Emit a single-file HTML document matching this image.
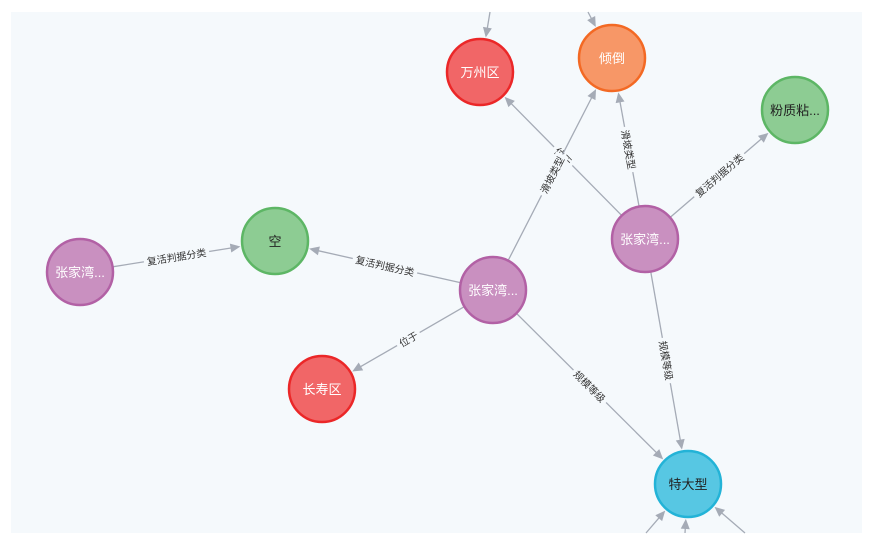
<!DOCTYPE html>
<html><head><meta charset="utf-8"><style>
html,body{margin:0;padding:0;background:#fff;}
svg{display:block;font-family:"Liberation Sans","Noto Sans CJK SC",sans-serif;}
</style></head><body>
<svg id="s" width="880" height="541" viewBox="0 0 880 541" xmlns="http://www.w3.org/2000/svg">
<rect x="11" y="12" width="851" height="521" fill="#f5f9fc"/>
<g id="edges"></g><g id="nodes"></g>
</svg>
<script>
const N={
 wz:[480,72,'万州区','#f16667','#eb2728','#fff'],
 qd:[612,58,'倾倒','#f79767','#f36924','#fff'],
 fz:[795,110,'粉质粘...','#8dcc93','#5db665','#222'],
 k:[275,241,'空','#8dcc93','#5db665','#222'],
 zl:[80,272,'张家湾...','#c990c0','#b261a5','#fff'],
 zc:[493,290,'张家湾...','#c990c0','#b261a5','#fff'],
 zr:[645,239,'张家湾...','#c990c0','#b261a5','#fff'],
 cs:[322,389,'长寿区','#f16667','#eb2728','#fff'],
 td:[688,484,'特大型','#57c7e3','#23b3d7','#222']};
const R=33,NS='http://www.w3.org/2000/svg';
const E=document.getElementById('edges'),G=document.getElementById('nodes');
function el(t,a,p){const e=document.createElementNS(NS,t);for(const k in a)e.setAttribute(k,a[k]);p.appendChild(e);return e;}
function arrow(x,y,ang){const c=Math.cos(ang),s=Math.sin(ang);const L=10,W=4.5;
 el('polygon',{points:`${x},${y} ${x-L*c-W*s},${y-L*s+W*c} ${x-L*c+W*s},${y-L*s-W*c}`,fill:'#a5abb6'},E);}
function edge(x1,y1,x2,y2,label,endR){
 const dx=x2-x1,dy=y2-y1,d=Math.hypot(dx,dy),a=Math.atan2(dy,dx);
 const sx=x1+dx/d*(endR===undefined?R:0)*(label===null&&endR===-1?0:1),sy=y1+dy/d*(endR===undefined?R:0);
 const ex=x2-dx/d*(R+2),ey=y2-dy/d*(R+2);
 el('line',{x1:sx,y1:sy,x2:ex-Math.cos(a)*8,y2:ey-Math.sin(a)*8,stroke:'#a5abb6','stroke-width':1.3},E);
 arrow(ex,ey,a);
 if(label){const mx=(sx+ex)/2,my=(sy+ey)/2;let deg=a*180/Math.PI;if(deg>90)deg-=180;if(deg<-90)deg+=180;
  const w=label.length*10+6;
  const g=el('g',{transform:`translate(${mx},${my}) rotate(${deg})`},E);
  el('rect',{x:-w/2,y:-7,width:w,height:14,fill:'#f5f9fc'},g);
  const t=el('text',{x:0,y:4,'text-anchor':'middle','font-size':10,fill:'#333'},g);t.textContent=label;}
}
function e(a,b,l){edge(N[a][0],N[a][1],N[b][0],N[b][1],l);}
e('zr','wz','位于');e('zc','qd','滑坡类型');e('zr','qd','滑坡类型');e('zr','fz','复活判据分类');
e('zl','k','复活判据分类');e('zc','k','复活判据分类');e('zc','cs','位于');e('zc','td','规模等级');e('zr','td','规模等级');
edge(490,12,N.wz[0],N.wz[1],null,0);edge(588,12,N.qd[0],N.qd[1],null,0);
edge(646,533,N.td[0],N.td[1],null,0);edge(685,533,N.td[0],N.td[1],null,0);edge(745,533,N.td[0],N.td[1],null,0);
for(const k in N){const [x,y,t,f,s,c]=N[k];el('circle',{cx:x,cy:y,r:R,fill:f,stroke:s,'stroke-width':2.5},G);
 const tx=el('text',{x:x,y:y+5,'text-anchor':'middle','font-size':13,fill:c},G);tx.textContent=t;}
</script>
</body></html>
